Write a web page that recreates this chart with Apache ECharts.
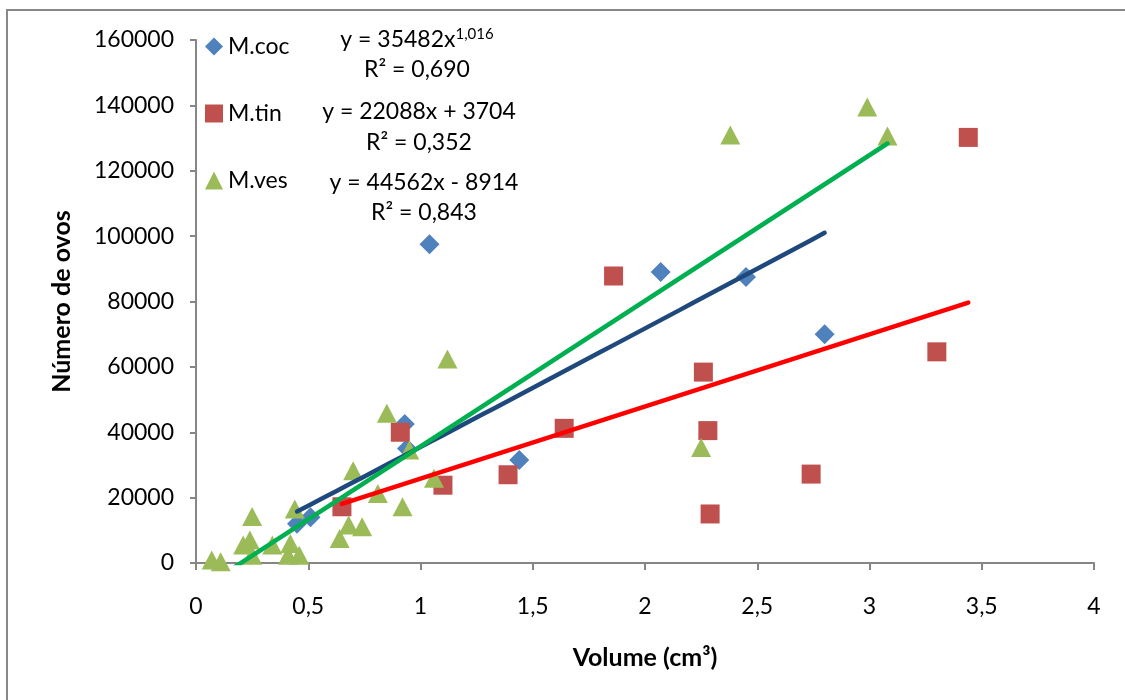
<!DOCTYPE html>
<html>
<head>
<meta charset="utf-8">
<script src="https://cdn.jsdelivr.net/npm/echarts@6/dist/echarts.min.js"></script>
<style>
  html, body { margin: 0; padding: 0; background: #ffffff; }
  #chart { width: 1125px; height: 700px; }
</style>
</head>
<body>
<div id="chart"></div>
<script>
// Egg counts against volume for three species
const seriesNames = ['M.coc', 'M.tin', 'M.ves'];

const volumeCoc = [0.45, 0.51, 0.93, 0.94, 1.04, 1.44, 2.07, 2.45, 2.80];
const eggsCoc   = [12000, 14000, 42500, 35000, 97500, 31500, 89000, 87500, 70000];

const volumeTin = [0.65, 0.91, 1.10, 1.39, 1.64, 1.86, 2.26, 2.28, 2.29, 2.74, 3.30, 3.44];
const eggsTin   = [17200, 40000, 23800, 27000, 41200, 87800, 58400, 40500, 15000, 27200, 64600, 130200];

const volumeVes = [0.07, 0.11, 0.21, 0.24, 0.25, 0.25, 0.34, 0.41, 0.42, 0.44, 0.46, 0.64, 0.68,
                   0.70, 0.74, 0.81, 0.85, 0.92, 0.95, 1.06, 1.12, 2.25, 2.38, 2.99, 3.08];
const eggsVes   = [900, 400, 5500, 7000, 2400, 14200, 5500, 2400, 6000, 16500, 2400, 7500, 11600,
                   28200, 11100, 21300, 45800, 17200, 34600, 25900, 62400, 35300, 130900, 139500, 130600];

// Trendline coefficients (power fit for M.coc, linear fits for the others)
const powerCoc  = [35482, 1.016];     // y = a * x^b
const linearTin = [22088, 3704];      // y = m * x + c
const linearVes = [44562, -8914];

const xTicks = [0, 0.5, 1, 1.5, 2, 2.5, 3, 3.5, 4];
const yTicks = [0, 20000, 40000, 60000, 80000, 100000, 120000, 140000, 160000];

const equationLines = [
  ['y = 35482x{sup|1,016}', 'R² = 0,690'],
  ['y = 22088x + 3704', 'R² = 0,352'],
  ['y = 44562x - 8914', 'R² = 0,843']
];

const colors = {
  coc: '#4F81BD', tin: '#C0504D', ves: '#9BBB59',
  cocTrend: '#1F497D', tinTrend: '#FF0000', vesTrend: '#00B050'
};

const FONT = 'Lato, "Open Sans", sans-serif';

function pairs(xs, ys) { return xs.map((x, i) => [x, ys[i]]); }

function powerTrend(xs, coef) {
  const lo = Math.min(...xs), hi = Math.max(...xs);
  const pts = [];
  const steps = 40;
  for (let i = 0; i <= steps; i++) {
    const x = lo + (hi - lo) * i / steps;
    pts.push([x, coef[0] * Math.pow(x, coef[1])]);
  }
  return pts;
}

function linearTrend(xs, coef) {
  const lo = Math.min(...xs), hi = Math.max(...xs);
  return [[lo, coef[0] * lo + coef[1]], [hi, coef[0] * hi + coef[1]]];
}

const chart = echarts.init(document.getElementById('chart'));

const axisGray = '#868686';

const trendSeries = (data, color) => ({
  type: 'line',
  data: data,
  showSymbol: false,
  symbol: 'none',
  clip: true,
  silent: true,
  z: 5,
  lineStyle: { color: color, width: 4.5, cap: 'round' }
});

const eqGraphics = [];
const eqCenters = [[417, 40, 70], [419, 112, 143], [424, 183, 213]];
equationLines.forEach((lines, i) => {
  const c = eqCenters[i];
  eqGraphics.push({
    type: 'text', x: c[0], y: c[1],
    style: {
      text: lines[0], fill: '#000', font: '23px ' + FONT,
      align: 'center', verticalAlign: 'middle',
      rich: { sup: { fontSize: 15, fontFamily: FONT, verticalAlign: 'top', padding: [0, 0, 12, 0], fill: '#000' } }
    },
    z: 10
  });
  eqGraphics.push({
    type: 'text', x: c[0], y: c[2],
    style: {
      text: lines[1], fill: '#000', font: '23px ' + FONT,
      align: 'center', verticalAlign: 'middle'
    },
    z: 10
  });
});

chart.setOption({
  animation: false,
  backgroundColor: '#ffffff',
  grid: { left: 196, right: 31, top: 40, bottom: 137 },
  graphic: [
    {
      type: 'rect', shape: { x: 7, y: 10, width: 1140, height: 720 },
      style: { fill: 'none', stroke: '#888888', lineWidth: 2 }, silent: true, z: -1
    }
  ].concat(eqGraphics),
  legend: {
    orient: 'vertical',
    left: 205, top: 35,
    padding: 0,
    itemWidth: 18, itemHeight: 18,
    itemGap: 44,
    textStyle: { fontFamily: FONT, fontSize: 23, color: '#000', padding: [0, 0, 0, 0] },
    data: [
      { name: seriesNames[0], icon: 'diamond' },
      { name: seriesNames[1], icon: 'rect' },
      { name: seriesNames[2], icon: 'triangle' }
    ]
  },
  xAxis: {
    type: 'value',
    min: 0, max: 4, interval: 0.5,
    name: 'Volume (cm³)',
    nameLocation: 'middle',
    nameGap: 82,
    nameTextStyle: { fontFamily: FONT, fontSize: 25, fontWeight: 'bold', color: '#000' },
    axisLine: { show: true, lineStyle: { color: axisGray, width: 2 } },
    axisTick: { show: true, length: 7, inside: false, lineStyle: { color: axisGray, width: 2 } },
    splitLine: { show: false },
    axisLabel: {
      fontFamily: FONT, fontSize: 23, color: '#000', margin: 32,
      formatter: v => {
        const t = xTicks.find(k => Math.abs(k - v) < 1e-9);
        return t === undefined ? '' : String(t).replace('.', ',');
      }
    }
  },
  yAxis: {
    type: 'value',
    min: 0, max: 160000, interval: 20000,
    name: 'Número de ovos',
    nameLocation: 'middle',
    nameGap: 122,
    nameRotate: 90,
    nameTextStyle: { fontFamily: FONT, fontSize: 25, fontWeight: 'bold', color: '#000' },
    axisLine: { show: true, lineStyle: { color: axisGray, width: 2 } },
    axisTick: { show: true, length: 6, inside: false, lineStyle: { color: axisGray, width: 2 } },
    splitLine: { show: false },
    axisLabel: {
      fontFamily: FONT, fontSize: 23, color: '#000', margin: 22,
      formatter: v => {
        const t = yTicks.find(k => k === v);
        return t === undefined ? '' : String(t);
      }
    }
  },
  series: [
    {
      name: seriesNames[0], type: 'scatter', symbol: 'diamond', symbolSize: [20, 20],
      itemStyle: { color: colors.coc, opacity: 1 }, data: pairs(volumeCoc, eggsCoc), z: 2
    },
    {
      name: seriesNames[1], type: 'scatter', symbol: 'rect', symbolSize: [19, 19],
      itemStyle: { color: colors.tin, opacity: 1 }, data: pairs(volumeTin, eggsTin), z: 3
    },
    {
      name: seriesNames[2], type: 'scatter', symbol: 'triangle', symbolSize: [20, 19],
      itemStyle: { color: colors.ves, opacity: 1 }, data: pairs(volumeVes, eggsVes), z: 4
    },
    trendSeries(powerTrend(volumeCoc, powerCoc), colors.cocTrend),
    trendSeries(linearTrend(volumeTin, linearTin), colors.tinTrend),
    trendSeries(linearTrend(volumeVes, linearVes), colors.vesTrend)
  ]
});
</script>
</body>
</html>
